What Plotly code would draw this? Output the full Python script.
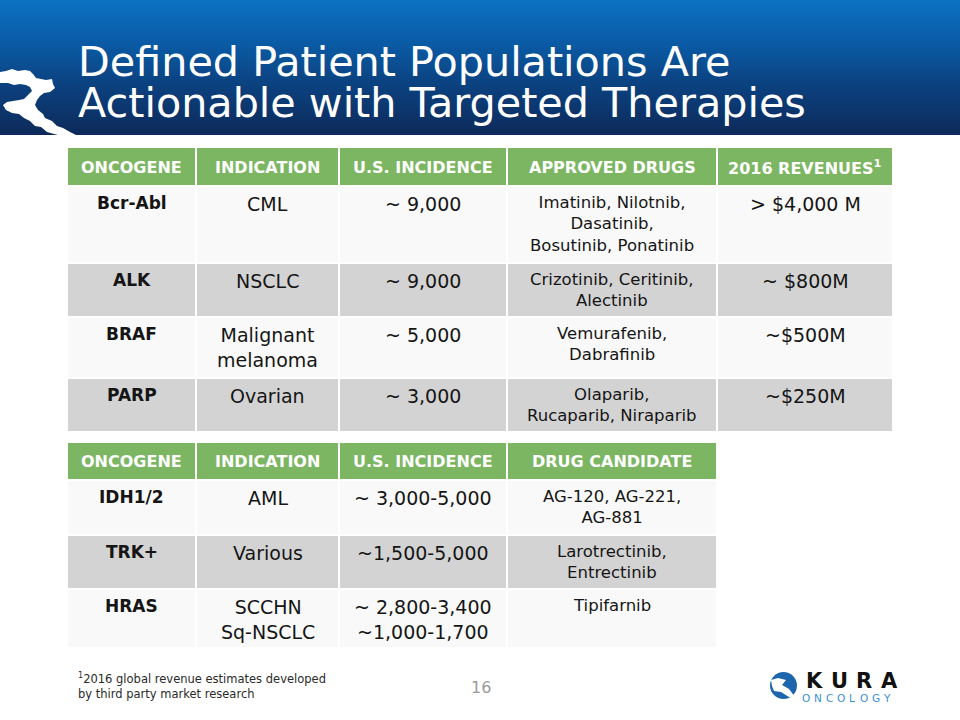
import plotly.graph_objects as go

# ---------------- DATA ----------------
title_lines = ["Defined Patient Populations Are", "Actionable with Targeted Therapies"]

t1_headers = ["ONCOGENE", "INDICATION", "U.S. INCIDENCE", "APPROVED DRUGS", "2016 REVENUES<sup>1</sup>"]
t1_oncogene = ["Bcr-Abl", "ALK", "BRAF", "PARP"]
t1_indication = ["CML", "NSCLC", "Malignant<br>melanoma", "Ovarian"]
t1_incidence = ["~ 9,000", "~ 9,000", "~ 5,000", "~ 3,000"]
t1_drugs = ["Imatinib, Nilotnib,<br>Dasatinib,<br>Bosutinib, Ponatinib",
            "Crizotinib, Ceritinib,<br>Alectinib",
            "Vemurafenib,<br>Dabrafinib",
            "Olaparib,<br>Rucaparib, Niraparib"]
t1_revenue = ["> $4,000 M", "~ $800M", "~$500M", "~$250M"]

t2_headers = ["ONCOGENE", "INDICATION", "U.S. INCIDENCE", "DRUG CANDIDATE"]
t2_oncogene = ["IDH1/2", "TRK+", "HRAS"]
t2_indication = ["AML", "Various", "SCCHN<br>Sq-NSCLC"]
t2_incidence = ["~ 3,000-5,000", "~1,500-5,000", "~ 2,800-3,400<br>~1,000-1,700"]
t2_candidate = ["AG-120, AG-221,<br>AG-881", "Larotrectinib,<br>Entrectinib", "Tipifarnib"]

footnote = "<sup>1</sup>2016 global revenue estimates developed<br>by third party market research"
page_number = "16"
logo_word = "KURA"
logo_sub = "ONCOLOGY"

# ---------------- LAYOUT / STYLE ----------------
W, H = 960, 720
FONT = "DejaVu Sans"
GREEN = "#7cb662"
GRAY = "#d3d3d3"
LIGHT = "#f9f9f9"
TXT = "#151515"

t1_cols = [67, 196, 339, 507, 717, 893]
t1_rows = [148, 186, 263, 317, 378, 432]
t2_cols = [67, 196, 339, 507, 717]
t2_rows = [443, 480, 535, 589, 648]

# per-column font sizes (oncogene, indication, incidence, drugs, revenue)
col_sizes = [17, 19, 19, 16.5, 19]
col_bold = [True, False, False, False, False]
TOP_PAD = 5

fig = go.Figure()

# header gradient (heatmap in pixel coordinates)
n_strips = 68
y_edges = [i * 135 / n_strips for i in range(n_strips + 1)]
z = [[i / (n_strips - 1)] for i in range(n_strips)]
fig.add_trace(go.Heatmap(
    z=z, x=[0, W], y=y_edges, showscale=False, hoverinfo="skip",
    colorscale=[[0, "#0b72c2"], [0.3, "#0a5ca7"], [0.6, "#0b4483"], [1, "#0d2a5b"]],
))

shapes = []
annotations = []

# white swirl on the left of the header
swirl = ("M 0,72 L 6,71 L 12,69 L 18,71 L 25,70 L 30,71 L 33,74 L 36,78 L 41,79 L 46,80 "
         "L 52,79 L 53,84 L 55,88 L 50,92 L 44,93 L 40,96 L 37,100 L 35,105 L 38,110 "
         "L 43,114 L 45,118 L 52,121 L 57,126 L 63,128 L 70,132 L 78,136 "
         "L 62,136 L 54,134 L 47,132 L 41,127 L 35,126 L 30,121 L 24,118 L 19,114 "
         "L 12,113 L 6,110 L 3,105 L 7,102 L 13,101 L 19,100 L 24,99 L 28,95 L 32,91 "
         "L 30,87 L 26,85 L 20,84 L 14,85 L 8,83 L 0,83 Z")
shapes.append(dict(type="path", path=swirl, xref="x", yref="y",
                   fillcolor="white", line=dict(width=0), layer="above"))

# title
for i, line in enumerate(title_lines):
    annotations.append(dict(x=76, y=62 + i * 41, xref="x", yref="y", text=line,
                            showarrow=False, xanchor="left", yanchor="middle",
                            font=dict(family=FONT, size=41.3, color="white")))


def draw_table(cols, rows, headers, columns):
    # header
    for c in range(len(cols) - 1):
        shapes.append(dict(type="rect", xref="x", yref="y",
                           x0=cols[c] + 1, x1=cols[c + 1] - 1, y0=rows[0], y1=rows[1] - 1,
                           fillcolor=GREEN, line=dict(width=0)))
        annotations.append(dict(x=(cols[c] + cols[c + 1]) / 2, y=(rows[0] + rows[1]) / 2,
                                xref="x", yref="y", text="<b>" + headers[c] + "</b>",
                                showarrow=False, xanchor="center", yanchor="middle",
                                font=dict(family=FONT, size=16, color="white")))
    # body
    for r in range(len(rows) - 2):
        fill = LIGHT if r % 2 == 0 else GRAY
        for c in range(len(cols) - 1):
            shapes.append(dict(type="rect", xref="x", yref="y",
                               x0=cols[c] + 1, x1=cols[c + 1] - 1,
                               y0=rows[r + 1] + 1, y1=rows[r + 2] - 1,
                               fillcolor=fill, line=dict(width=0)))
            txt = columns[c][r]
            if col_bold[c]:
                txt = "<b>" + txt + "</b>"
            annotations.append(dict(x=(cols[c] + cols[c + 1]) / 2, y=rows[r + 1] + TOP_PAD,
                                    xref="x", yref="y", text=txt, showarrow=False,
                                    xanchor="center", yanchor="top", align="center",
                                    font=dict(family=FONT, size=col_sizes[c], color=TXT)))


draw_table(t1_cols, t1_rows, t1_headers,
           [t1_oncogene, t1_indication, t1_incidence, t1_drugs, t1_revenue])
draw_table(t2_cols, t2_rows, t2_headers,
           [t2_oncogene, t2_indication, t2_incidence, t2_candidate])

# footnote and page number
annotations.append(dict(x=76, y=686, xref="x", yref="y", text=footnote, showarrow=False,
                        xanchor="left", yanchor="middle", align="left",
                        font=dict(family=FONT, size=11.5, color="#2a2a2a")))
annotations.append(dict(x=481, y=687, xref="x", yref="y", text=page_number, showarrow=False,
                        xanchor="center", yanchor="middle",
                        font=dict(family=FONT, size=16, color="#9a9a9a")))

# logo
shapes.append(dict(type="circle", xref="x", yref="y", x0=770, x1=797, y0=672, y1=699,
                   fillcolor="#1d66ad", line=dict(width=0)))
shapes.append(dict(type="path", xref="x", yref="y",
                   path="M 771,680 L 778,678 L 786,680 L 782,685 L 789,689 L 795,697 L 789,697 "
                        "L 781,692 L 774,691 L 772,686 Z",
                   fillcolor="white", line=dict(width=0)))
for i, ch in enumerate(logo_word):
    annotations.append(dict(x=814 + i * 25, y=681, xref="x", yref="y", text="<b>" + ch + "</b>",
                            showarrow=False, xanchor="center", yanchor="middle",
                            font=dict(family=FONT, size=21, color="#111111")))
for i, ch in enumerate(logo_sub):
    annotations.append(dict(x=806 + i * 11.6, y=698, xref="x", yref="y", text=ch,
                            showarrow=False, xanchor="center", yanchor="middle",
                            font=dict(family=FONT, size=10.5, color="#3b8fd3")))

fig.update_layout(
    width=W, height=H, margin=dict(l=0, r=0, t=0, b=0),
    paper_bgcolor="white", plot_bgcolor="white",
    shapes=shapes, annotations=annotations, showlegend=False,
    xaxis=dict(range=[0, W], visible=False, fixedrange=True),
    yaxis=dict(range=[H, 0], visible=False, fixedrange=True),
)

fig.write_html("out.html", config={"displayModeBar": False},
               post_script="document.body.style.margin='0px';")
